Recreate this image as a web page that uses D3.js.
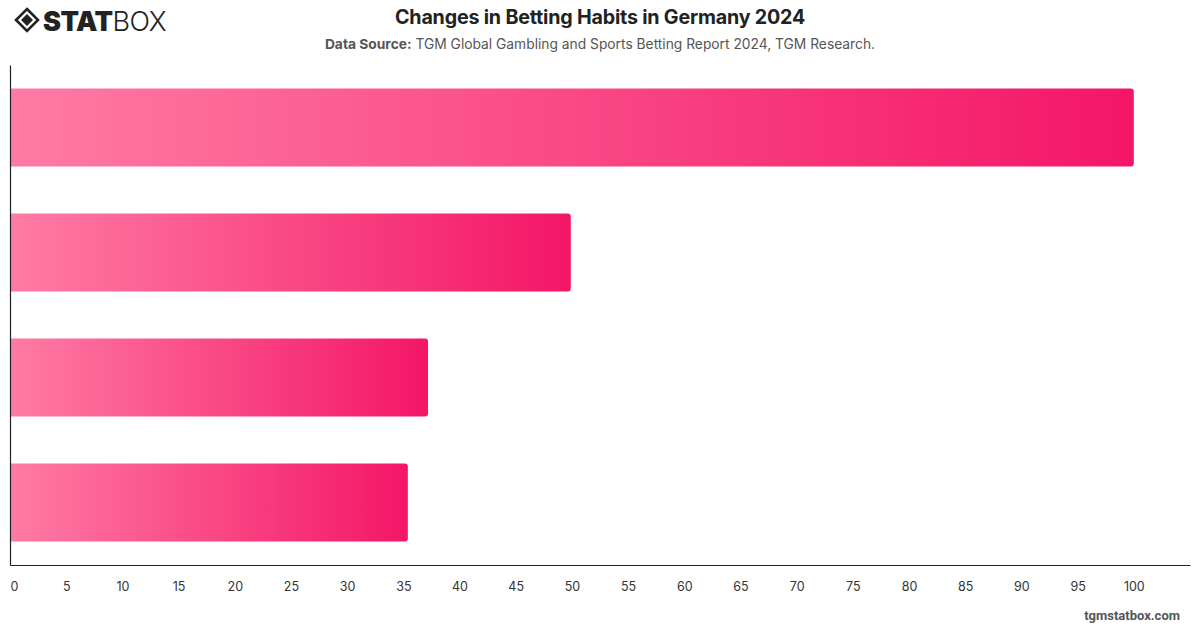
<!DOCTYPE html>
<html>
<head>
<meta charset="utf-8">
<script src="https://cdn.jsdelivr.net/npm/d3@7"></script>
<style>
  html, body { margin: 0; padding: 0; background: #fff; }
  svg { display: block; font-family: Inter, "Open Sans", "Noto Sans", sans-serif; }
</style>
</head>
<body>
<svg id="chart" width="1200" height="628"></svg>
<script>
// ---- Data ----
const categories = ["Category 1", "Category 2", "Category 3", "Category 4"];
const values = [100, 49.9, 37.2, 35.4];
const tickValues = [0, 5, 10, 15, 20, 25, 30, 35, 40, 45, 50, 55, 60, 65, 70, 75, 80, 85, 90, 95, 100];
const titleText = "Changes in Betting Habits in Germany 2024";
const sourceLabel = "Data Source:";
const sourceText = " TGM Global Gambling and Sports Betting Report 2024, TGM Research.";
const footerText = "tgmstatbox.com";

const svg = d3.select("#chart");
const margin = { left: 10, right: 10, top: 65, bottom: 63 };
const W = 1200, H = 628;

const x = d3.scaleLinear().domain([0, 105]).range([margin.left, W - margin.right]);
const y = d3.scaleBand().domain(categories).range([margin.top, H - margin.bottom])
  .paddingInner(0.376).paddingOuter(0.188);

// gradient
const defs = svg.append("defs");
const grad = defs.append("linearGradient").attr("id", "barGrad")
  .attr("x1", "0%").attr("x2", "100%").attr("y1", "0%").attr("y2", "0%");
grad.append("stop").attr("offset", "0%").attr("stop-color", "#ff7ba4");
grad.append("stop").attr("offset", "100%").attr("stop-color", "#f41667");

// bars (rounded right corners)
const r = 3;
svg.append("g").selectAll("path").data(values).join("path")
  .attr("fill", "url(#barGrad)")
  .attr("d", (d, i) => {
    const x0 = x(0), x1 = x(d), y0 = y(categories[i]), h = y.bandwidth();
    return `M${x0},${y0} H${x1 - r} Q${x1},${y0} ${x1},${y0 + r} V${y0 + h - r} Q${x1},${y0 + h} ${x1 - r},${y0 + h} H${x0} Z`;
  });

// x axis
const xAxis = d3.axisBottom(x).tickValues(tickValues).tickSize(0).tickPadding(17);
const gx = svg.append("g").attr("transform", `translate(0,${H - margin.bottom})`).call(xAxis);
gx.select(".domain").attr("stroke", "#222").attr("stroke-width", 1.2);
gx.selectAll("text").attr("font-size", 12.5).attr("fill", "#333")
  .attr("font-family", "Inter, 'Open Sans', sans-serif")
  .attr("dx", (d) => d === 0 ? 4 : 0);

// y axis
const yAxis = d3.axisLeft(y).tickSize(0).tickFormat("");
const gy = svg.append("g").attr("transform", `translate(${margin.left},0)`).call(yAxis);
gy.select(".domain").attr("stroke", "#222").attr("stroke-width", 1.2);

// title
svg.append("text").attr("x", 600).attr("y", 24).attr("text-anchor", "middle")
  .attr("font-size", 19.7).attr("font-weight", 700).attr("fill", "#222")
  .attr("font-family", "Inter, sans-serif").attr("letter-spacing", -0.2).text(titleText);
const sub = svg.append("text").attr("x", 600).attr("y", 49).attr("text-anchor", "middle")
  .attr("font-size", 13.8).attr("fill", "#555").attr("font-family", "Inter, sans-serif");
sub.append("tspan").attr("font-weight", 700).text(sourceLabel);
sub.append("tspan").text(sourceText);

// footer
svg.append("text").attr("x", 1180).attr("y", 620).attr("text-anchor", "end")
  .attr("font-size", 13).attr("font-weight", 700).attr("fill", "#555")
  .attr("font-family", "Roboto, Inter, sans-serif").text(footerText);

// logo
const logo = svg.append("g").attr("transform", "translate(15,8)");
logo.append("path").attr("d", "M12,1 L23,12 L12,23 L1,12 Z").attr("fill", "none")
  .attr("stroke", "#222").attr("stroke-width", 2.6);
logo.append("path").attr("d", "M12,6 L18,12 L12,18 L6,12 Z").attr("fill", "#222");
const lt = logo.append("text").attr("x", 28).attr("y", 23).attr("font-size", 27)
  .attr("fill", "#222").attr("font-family", "Inter, sans-serif").attr("letter-spacing", -0.5);
lt.append("tspan").attr("font-weight", 900).text("STAT");
lt.append("tspan").attr("font-weight", 300).text("BOX");
</script>
</body>
</html>
